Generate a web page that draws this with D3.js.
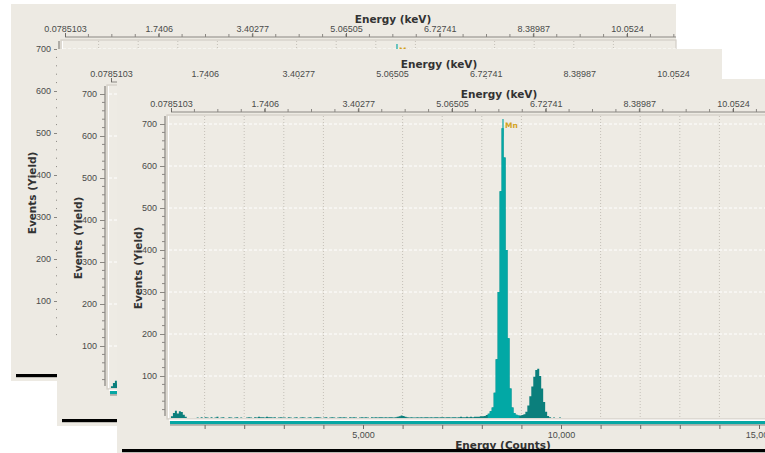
<!DOCTYPE html>
<html lang="en">
<head>
  <meta charset="UTF-8">
  <title>Spectrum windows</title>
  <script src="https://d3js.org/d3.v7.min.js"></script>
  <style>
    body { margin: 0; background: #fff; }
    svg { display: block; font-family: "DejaVu Sans", sans-serif; }
    .tick text { fill: #4a4a4a; font-size: 9px; }
    .ttl { fill: #333; font-size: 10.5px; font-weight: bold; }
  </style>
</head>
<body>
<svg width="765" height="453"></svg>
<script>
// histogram bins, 50 counts wide, starting at 0
const binWidth = 50;
const yieldBins = [
  0, 0, 0, 4, 12, 17, 11, 16, 14, 8, 3, 0, 0, 0, 0, 0, 1, 0, 2, 0,        // 0 - 950
  2, 1, 0, 2, 0, 1, 3, 0, 1, 2, 0, 0, 2, 1, 0, 1, 2, 0, 1, 0,             // 1000 - 1950
  0, 1, 2, 1, 0, 2, 1, 3, 2, 2, 1, 3, 2, 2, 1, 2, 0, 1, 2, 1,             // 2000
  1, 0, 2, 1, 0, 1, 2, 0, 1, 2, 1, 0, 1, 2, 0, 1, 2, 2, 1, 0,             // 3000
  1, 2, 0, 1, 2, 1, 0, 1, 2, 1, 2, 1, 0, 2, 1, 2, 1, 0, 1, 2,             // 4000
  1, 2, 1, 0, 2, 1, 2, 1, 2, 2, 1, 2, 1, 2, 2, 1, 2, 3, 4, 6,             // 5000
  5, 3, 2, 1, 2, 1, 1, 2, 1, 2, 1, 2, 2, 1, 2, 1, 2, 2, 1, 2,             // 6000
  2, 1, 2, 2, 1, 2, 2, 1, 2, 3, 2, 2, 3, 2, 3, 2, 3, 3, 3, 4,             // 7000
  4, 5, 7, 10, 16, 25, 60, 140, 300, 540, 690, 620, 400, 190, 70, 25, 12, 8, 6, 6, // 8000
  7, 9, 15, 30, 52, 75, 98, 114, 117, 100, 70, 38, 15, 5, 2, 0, 1, 0, 0, 1 // 9000
];
const roiRange = [8150, 8950];          // highlighted Mn K-alpha region
const kevLabels = ["0.0785103", "1.7406", "3.40277", "5.06505", "6.72741", "8.38987", "10.0524"];
const countTicks = [5000, 10000, 15000];
const yieldTicks = [100, 200, 300, 400, 500, 600, 700];
const peakName = "Mn";
const peakAt = 8535;
const peakTop = 712;

const svg = d3.select("svg");
const W = 665, H = 377;
const panels = [[11, 4], [57, 49], [117, 79]];

const x = d3.scaleLinear().domain([0, 15000]).range([48, 642]);
const kev = d3.scaleLinear().domain([+kevLabels[0], +kevLabels[kevLabels.length - 1]]).range([54, 616]);
const y = d3.scaleLinear().domain([0, 700]).range([339, 45]);

const pts = yieldBins.map((v, i) => ({ c: i * binWidth, v }));
pts.push({ c: yieldBins.length * binWidth, v: 0 });
const area = d3.area().curve(d3.curveStepAfter)
  .x(d => x(d.c)).y0(y(0)).y1(d => y(d.v));

function drawPanel(ox, oy) {
  const g = svg.append("g").attr("transform", `translate(${ox},${oy})`);
  g.append("rect").attr("width", W).attr("height", H).attr("fill", "#edeae3");

  // plot frame
  g.append("rect").attr("x", 50).attr("y", 36).attr("width", W - 50).attr("height", 304)
    .attr("fill", "#eeebe4").attr("stroke", "#d2cec6").attr("stroke-width", 1.2);
  g.append("line").attr("x1", 51.5).attr("x2", 51.5).attr("y1", 37).attr("y2", 339)
    .attr("stroke", "#fff").attr("stroke-width", 1);

  // grid
  g.append("g").selectAll("line").data(yieldTicks).join("line")
    .attr("x1", 52).attr("x2", W).attr("y1", d => y(d)).attr("y2", d => y(d))
    .attr("stroke", "#fff").attr("stroke-dasharray", "3,2");
  const minorCounts = d3.range(1000, 16000, 1000).filter(d => d % 5000 !== 0);
  g.append("g").selectAll("line").data(minorCounts).join("line")
    .attr("x1", d => x(d)).attr("x2", d => x(d)).attr("y1", 37).attr("y2", 339)
    .attr("stroke", "#c4c0b8").attr("stroke-dasharray", "1,2");

  // spectrum
  g.append("path").datum(pts).attr("d", area).attr("fill", "#0b7f7c");
  const roiPts = pts.filter(d => d.c >= roiRange[0] && d.c <= roiRange[1]);
  g.append("path").datum(roiPts).attr("d", area).attr("fill", "#02a8a5");

  // peak marker
  g.append("line").attr("x1", x(peakAt)).attr("x2", x(peakAt))
    .attr("y1", y(peakTop)).attr("y2", y(670))
    .attr("stroke", "#12a9a6").attr("stroke-width", 1.2);
  g.append("text").attr("x", x(peakAt) + 2).attr("y", y(peakTop) + 9)
    .attr("fill", "#d3a21c").attr("font-size", 7.5).attr("font-weight", "bold").text(peakName);

  // top keV axis
  const kevVals = kevLabels.map(Number);
  const step = (kevVals[kevVals.length - 1] - kevVals[0]) / (kevVals.length - 1);
  const minorKev = [];
  for (let v = kevVals[0] + step / 4; kev(v) <= W; v += step / 4) minorKev.push(v);
  g.append("line").attr("x1", 54).attr("x2", W).attr("y1", 33).attr("y2", 33)
    .attr("stroke", "#8a8782");
  g.append("g").selectAll("line").data(minorKev).join("line")
    .attr("x1", d => kev(d)).attr("x2", d => kev(d)).attr("y1", 33).attr("y2", 30)
    .attr("stroke", "#8a8782");
  const top = g.append("g").attr("transform", "translate(0,33)")
    .call(d3.axisTop(kev).tickValues(kevVals).tickFormat((d, i) => kevLabels[i])
      .tickSize(4).tickSizeOuter(0).tickPadding(1));
  top.select(".domain").remove();
  top.selectAll(".tick line").attr("stroke", "#6e6b66");
  g.append("text").attr("class", "ttl").attr("x", 382).attr("y", 19)
    .attr("text-anchor", "middle").text("Energy (keV)");

  // left yield axis
  const left = g.append("g").attr("transform", "translate(48,0)")
    .call(d3.axisLeft(y).tickValues(yieldTicks).tickSize(5).tickSizeOuter(0).tickPadding(3));
  left.select(".domain").attr("d", `M0,${y(0) - 2}V37`).attr("stroke", "#9a9792").attr("stroke-width", 1.5);
  left.selectAll(".tick line").attr("stroke", "#8a8782");
  const minorY = d3.range(20, 720, 20).filter(d => d % 100 !== 0);
  g.append("g").selectAll("line").data(minorY).join("line")
    .attr("x1", 45).attr("x2", 48).attr("y1", d => y(d)).attr("y2", d => y(d))
    .attr("stroke", "#8a8782");
  g.append("text").attr("class", "ttl").attr("font-size", 10)
    .attr("transform", "translate(25,189) rotate(-90)")
    .attr("text-anchor", "middle").text("Events (Yield)");

  // range bar + bottom counts axis
  g.append("rect").attr("x", 52).attr("y", 340.5).attr("width", W - 52).attr("height", 1.5).attr("fill", "#fff");
  g.append("rect").attr("x", 53).attr("y", 342).attr("width", W - 53).attr("height", 3.2).attr("fill", "#06a7a4");
  g.append("line").attr("x1", 53).attr("x2", W).attr("y1", 346).attr("y2", 346).attr("stroke", "#8a8782");
  const bottom = g.append("g").attr("transform", "translate(0,346)")
    .call(d3.axisBottom(x).tickValues(d3.range(1000, 16000, 1000))
      .tickFormat(d => countTicks.includes(d) ? d3.format(",")(d) : "")
      .tickSize(4).tickSizeOuter(0).tickPadding(3));
  bottom.select(".domain").remove();
  bottom.selectAll(".tick line").attr("stroke", "#6e6b66");
  g.append("text").attr("class", "ttl").attr("x", 386).attr("y", 369.5)
    .attr("text-anchor", "middle").text("Energy (Counts)");

  g.append("rect").attr("x", 5).attr("y", 370).attr("width", W - 5).attr("height", 3.2).attr("fill", "#000");
}

panels.forEach(([ox, oy]) => drawPanel(ox, oy));
</script>
</body>
</html>
